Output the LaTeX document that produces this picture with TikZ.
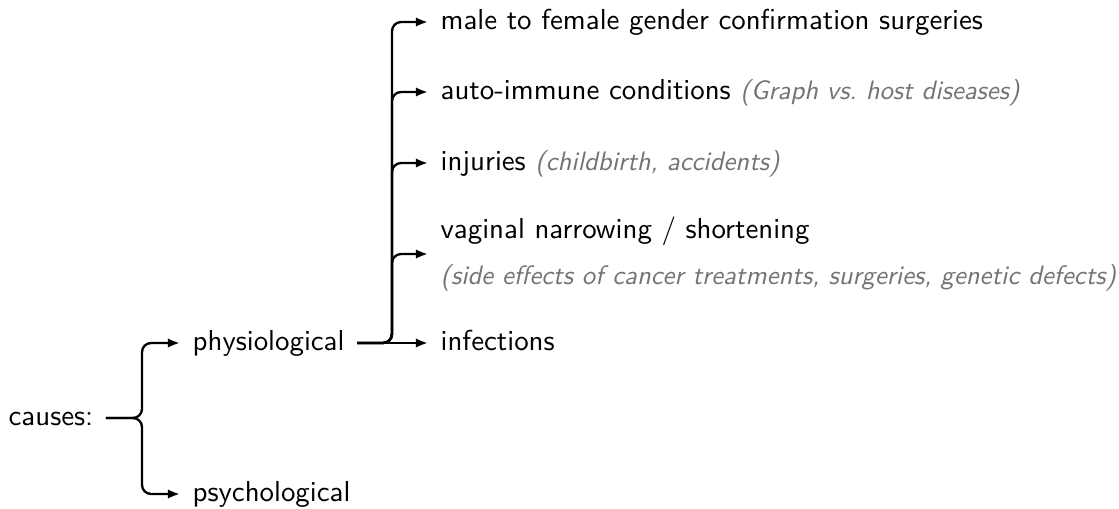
\documentclass[tikz,border=0pt]{standalone}
\usepackage{tikz}
\usetikzlibrary{positioning, arrows.meta}
\definecolor{NoteGray}{RGB}{115, 115, 115}
\newcommand{\aside}[1]{{\color{NoteGray}\fontsize{9.7}{16.4}\selectfont\itshape #1}}

\begin{document}
\begin{tikzpicture}[
    x=0.3636pt, y=-0.3636pt,
    font=\sffamily\fontsize{10.5}{16.4}\selectfont,
    entry/.style={anchor=west, inner xsep=4.4pt, inner ysep=1pt, align=left},
    item/.style={entry, text height=6.6pt, text depth=1.1pt},
    link/.style={-{Latex[length=4.4pt, width=3.4pt]}, line width=0.85pt, rounded corners=3.3pt}
  ]
    \useasboundingbox (0, 0) rectangle (1119, 508);

    % Root
    \node[item] (causes) at (-4, 418) {causes:};

    % First level
    \node[item] (physio) at (180, 343) {physiological};
    \node[item] (psycho) at (180, 494) {psychological};

    % Second level
    \node[item] (male) at (428, 22) {male to female gender confirmation surgeries};
    \node[item] (auto) at (428, 92) {auto-immune conditions \aside{(Graph vs.\ host diseases)}};
    \node[item] (inj) at (428, 163) {injuries \aside{(childbirth, accidents)}};
    \node[entry] (vag) at (428, 254) {vaginal narrowing / shortening\\
      \aside{(side effects of cancer treatments, surgeries, genetic defects)}};
    \node[item] (inf) at (428, 343) {infections};

    % Forks
    \coordinate (f1) at (142, 418);
    \coordinate (f2) at (392, 343);

    % Connections: root to first level
    \foreach \c in {physio, psycho} {
      \draw[link] (causes.east) -- (f1) |- (\c.west);
    }

    % Connections: physiological to second level
    \foreach \c in {male, auto, inj, vag} {
      \draw[link] (physio.east) -- (f2) |- (\c.west);
    }
    \draw[link] (physio.east) -- (inf.west);
  \end{tikzpicture}
\end{document}
